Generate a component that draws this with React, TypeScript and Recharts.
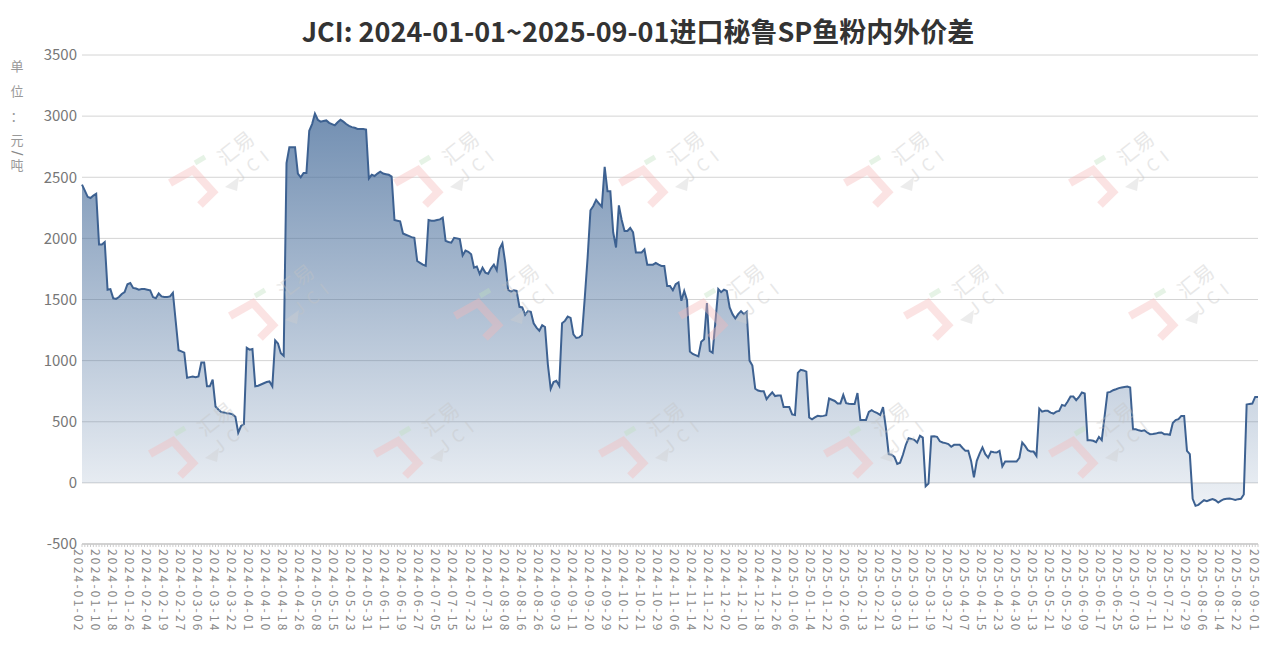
import React from "react";
import { Area, AreaChart, CartesianGrid, XAxis, YAxis } from "recharts";

// x-axis labels, one every 6 trading days
const tickLabels = [
  "2024-01-02", "2024-01-10", "2024-01-18", "2024-01-26", "2024-02-04", "2024-02-19", "2024-02-27",
  "2024-03-06", "2024-03-14", "2024-03-22", "2024-04-01", "2024-04-10", "2024-04-18", "2024-04-26",
  "2024-05-08", "2024-05-15", "2024-05-23", "2024-05-31", "2024-06-11", "2024-06-19", "2024-06-27",
  "2024-07-05", "2024-07-15", "2024-07-23", "2024-07-31", "2024-08-08", "2024-08-16", "2024-08-26",
  "2024-09-03", "2024-09-11", "2024-09-20", "2024-09-29", "2024-10-12", "2024-10-21", "2024-10-29",
  "2024-11-06", "2024-11-14", "2024-11-22", "2024-12-02", "2024-12-10", "2024-12-18", "2024-12-26",
  "2025-01-06", "2025-01-14", "2025-01-22", "2025-02-06", "2025-02-13", "2025-02-21", "2025-03-03",
  "2025-03-11", "2025-03-19", "2025-03-27", "2025-04-07", "2025-04-15", "2025-04-23", "2025-04-30",
  "2025-05-13", "2025-05-21", "2025-05-29", "2025-06-09", "2025-06-17", "2025-06-25", "2025-07-03",
  "2025-07-11", "2025-07-21", "2025-07-29", "2025-08-06", "2025-08-14", "2025-08-22", "2025-09-01",
];
const LABEL_STEP = 6;

const yTicks = [-500, 0, 500, 1000, 1500, 2000, 2500, 3000, 3500];

// 内外价差, 元/吨, one value per trading day
const spread = [
  2440, 2390, 2340, 2330, 2350, 2365, 1950, 1950, 1970, 1580,
  1585, 1510, 1505, 1520, 1545, 1560, 1625, 1635, 1595, 1590,
  1580, 1585, 1585, 1580, 1575, 1520, 1510, 1550, 1525, 1520,
  1520, 1525, 1555, 1320, 1085, 1075, 1065, 860, 865, 870,
  865, 870, 985, 985, 790, 790, 845, 625, 600, 580,
  575, 570, 568, 560, 540, 410, 465, 480, 1105, 1090,
  1095, 790, 795, 805, 815, 825, 830, 790, 1165, 1140,
  1060, 1040, 2615, 2745, 2745, 2745, 2530, 2500, 2535, 2535,
  2880, 2935, 3020, 2970, 2955, 2960, 2965, 2945, 2935, 2925,
  2950, 2970, 2955, 2935, 2920, 2910, 2905, 2895, 2895, 2895,
  2890, 2490, 2520, 2510, 2530, 2545, 2530, 2525, 2520, 2505,
  2150, 2145, 2140, 2040, 2030, 2020, 2010, 2005, 1815, 1800,
  1785, 1775, 2150, 2145, 2145, 2150, 2155, 2170, 1980, 1970,
  1965, 2005, 2000, 1995, 1860, 1900, 1890, 1870, 1760, 1770,
  1710, 1760, 1720, 1710, 1755, 1785, 1740, 1915, 1960, 1800,
  1580, 1565, 1575, 1570, 1440, 1435, 1375, 1405, 1400, 1305,
  1270, 1245, 1290, 1275, 970, 770, 825, 835, 795, 1305,
  1325, 1360, 1350, 1215, 1185, 1190, 1210, 1515, 1845, 2230,
  2265, 2315, 2285, 2260, 2585, 2385, 2385, 2050, 1925, 2270,
  2150, 2060, 2060, 2085, 2050, 1885, 1885, 1885, 1910, 1785,
  1785, 1785, 1800, 1785, 1775, 1775, 1610, 1610, 1575, 1625,
  1640, 1490, 1570, 1495, 1075, 1055, 1045, 1035, 1155, 1175,
  1470, 1080, 1065, 1325, 1585, 1560, 1580, 1570, 1435, 1380,
  1345, 1380, 1405, 1380, 1400, 1000, 960, 770, 755, 750,
  750, 685, 715, 740, 710, 715, 715, 620, 620, 620,
  560, 555, 900, 925, 920, 910, 535, 520, 535, 548,
  545, 548, 553, 690, 680, 670, 650, 650, 720, 652,
  648, 645, 645, 735, 515, 515, 515, 580, 595, 580,
  570, 555, 620, 450, 235, 230, 213, 155, 165, 230,
  310, 365, 360, 352, 330, 385, 370, -27, -5, 380,
  382, 377, 340, 330, 325, 317, 295, 311, 311, 311,
  285, 262, 262, 180, 45, 180, 240, 290, 235, 207,
  256, 250, 248, 262, 135, 174, 174, 174, 174, 174,
  205, 330, 303, 267, 256, 256, 221, 608, 583, 589,
  589, 575, 567, 583, 589, 638, 630, 665, 706, 706,
  676, 703, 739, 731, 349, 349, 344, 333, 376, 349,
  545, 739, 744, 758, 766, 775, 780, 785, 788, 780,
  439, 439, 430, 425, 430, 412, 398, 400, 403, 410,
  412, 398, 398, 393, 490, 513, 521, 548, 548, 262,
  235, -130, -188, -180, -160, -142, -150, -140, -133, -142,
  -161, -145, -133, -130, -128, -133, -140, -133, -130, -95,
  640, 646, 649, 703, 703,
];

const data = spread.map((v, i) => ({ i, v }));
const allTicks = data.map((d) => d.i);

const FONT = "'Noto Sans CJK SC', 'Noto Sans', sans-serif";

function DateTick(props: any) {
  const { x, y, payload } = props;
  const idx = payload.value as number;
  if (idx % LABEL_STEP !== 0) return null;
  const label = tickLabels[idx / LABEL_STEP];
  if (!label) return null;
  const tx = x - 3;
  return (
    <text
      x={tx}
      y={y}
      transform={`rotate(90 ${tx} ${y})`}
      textAnchor="start"
      dominantBaseline="central"
      fill="#888"
      fontSize={12}
      letterSpacing={2.2}
      fontFamily={FONT}
    >
      {label}
    </text>
  );
}

// centres of the faint "汇易 JCI" watermarks
const wmSpots = [
  [215, 175], [440, 175], [665, 175], [890, 175], [1115, 175],
  [275, 308], [500, 308], [725, 308], [950, 308], [1175, 308],
  [195, 446], [420, 446], [645, 446], [870, 446], [1095, 446],
];

function Watermark({ x, y }: { x: number; y: number }) {
  return (
    <g transform={`translate(${x} ${y})`} opacity={0.38}>
      <path
        d="M-45 8 L-22 -5 L-2 17 L-15 30"
        fill="none"
        stroke="#f7b8b8"
        strokeWidth={8}
        strokeLinejoin="miter"
      />
      <path d="M-20 -12 L-10 -18" stroke="#bfe0bf" strokeWidth={5} />
      <path d="M10 12 L24 2 L22 16 Z" fill="#cfcfcf" />
      <text
        x={20}
        y={-28}
        transform="rotate(-38 20 -28)"
        textAnchor="middle"
        dominantBaseline="central"
        fontSize={20}
        fill="#c4c4c4"
        fontFamily={FONT}
      >
        汇易
      </text>
      <text
        x={38}
        y={-12}
        transform="rotate(-38 38 -12)"
        textAnchor="middle"
        dominantBaseline="central"
        fontSize={17}
        fill="#c4c4c4"
        letterSpacing={7}
        fontFamily={FONT}
      >
        JCI
      </text>
    </g>
  );
}

export default function App() {
  return (
    <div style={{ position: "relative", width: 1276, height: 651, background: "#fff" }}>
      <style>{"body{margin:0}"}</style>
      <AreaChart
        width={1276}
        height={651}
        data={data}
        margin={{ top: 55, right: 18, left: 0, bottom: 0 }}
      >
        <defs>
          <linearGradient id="spreadFill" gradientUnits="userSpaceOnUse" x1="0" y1="55" x2="0" y2="544">
            <stop offset="0%" stopColor="#4a6f9c" stopOpacity={0.88} />
            <stop offset="100%" stopColor="#4a6f9c" stopOpacity={0.03} />
          </linearGradient>
        </defs>
        <CartesianGrid vertical={false} stroke="#d4d4d4" />
        <XAxis
          dataKey="i"
          type="number"
          domain={[0, spread.length - 1]}
          ticks={allTicks}
          interval={0}
          height={107}
          tickSize={3}
          tickMargin={2}
          axisLine={{ stroke: "#bbb" }}
          tickLine={{ stroke: "#ccc" }}
          tick={<DateTick />}
        />
        <YAxis
          type="number"
          domain={[-500, 3500]}
          ticks={yTicks}
          width={82}
          tickSize={3}
          tickMargin={2}
          axisLine={false}
          tickLine={false}
          tick={{ fill: "#777", fontSize: 15, fontFamily: FONT }}
        />
        <Area
          type="linear"
          dataKey="v"
          baseValue={0}
          stroke="#3d6191"
          strokeWidth={2}
          fill="url(#spreadFill)"
          fillOpacity={1}
          dot={false}
          activeDot={false}
          isAnimationActive={false}
        />
      </AreaChart>
      <svg
        width={1276}
        height={651}
        style={{ position: "absolute", left: 0, top: 0, pointerEvents: "none" }}
      >
        {wmSpots.map(([x, y], k) => (
          <Watermark key={k} x={x} y={y} />
        ))}
        <text
          x={638}
          y={42}
          textAnchor="middle"
          fontSize={27}
          fontWeight={700}
          fill="#333"
          fontFamily={FONT}
        >
          JCI: 2024-01-01~2025-09-01进口秘鲁SP鱼粉内外价差
        </text>
        <g fill="#999" fontSize={13} fontFamily={FONT} textAnchor="middle">
          <text x={17} y={71}>单</text>
          <text x={17} y={96}>位</text>
          <text x={17} y={121}>：</text>
          <text x={17} y={145}>元</text>
          <text x={17} y={170}>吨</text>
        </g>
        <g transform="translate(17 153) rotate(90)">
          <text x={0} y={4} textAnchor="middle" fill="#888" fontSize={14} fontFamily="'DejaVu Sans', sans-serif">
            /
          </text>
        </g>
      </svg>
    </div>
  );
}
